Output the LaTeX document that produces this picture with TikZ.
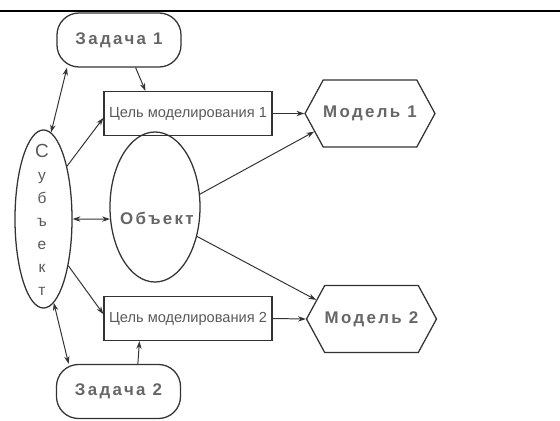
\documentclass[tikz,border=0pt]{standalone}
\usepackage{fontspec}
\setmainfont{Liberation Sans}
\newfontfamily\spacedfont[LetterSpace=14,BoldFont={Liberation Sans Bold}]{Liberation Sans}
\usetikzlibrary{shapes.geometric,shapes.symbols,arrows.meta}

\begin{document}
\begin{tikzpicture}[x=0.025cm, y=-0.025cm,
  task/.style={draw=black!80, line width=0.9pt, rounded corners=0.55cm,
    minimum width=3.1cm, minimum height=1.35cm, inner sep=0pt,
    font=\spacedfont\bfseries\fontsize{12}{14}\selectfont, text=black!60},
  goal/.style={draw=black!80, line width=0.9pt, minimum width=4.2cm,
    minimum height=1.1cm, inner sep=0pt,
    font=\fontsize{10.4}{12}\selectfont, text=black!65},
  model/.style={draw=black!80, line width=0.9pt, signal, signal to=west and east,
    signal pointer angle=123, minimum width=3.15cm, minimum height=1.675cm,
    inner sep=0pt, font=\spacedfont\bfseries\fontsize{12}{14}\selectfont, text=black!60},
  oval/.style={draw=black!80, line width=0.9pt, ellipse, inner sep=0pt},
  link/.style={draw=black!80, line width=0.7pt,
    >={Stealth[length=5.5pt,width=3.8pt]}}
]
\useasboundingbox (0,0) rectangle (560,421);

% Top rule
\draw[line width=1.4pt] (0,11) -- (560,11);

% Tasks
\node[task] (zad1) at (119,40) {Задача 1};
\node[task] (zad2) at (118.5,391.5) {Задача 2};

% Modelling goals
\node[goal] (cel1) at (188,113.5) {Цель моделирования 1};
\node[goal] (cel2) at (188,318.5) {Цель моделирования 2};

% Models
\node[model] (mod1) at (370,113.5) {Модель 1};
\node[model] (mod2) at (371.5,319) {Модель 2};

% Subject and object
\node[oval, minimum width=1.425cm, minimum height=4.45cm] (subj) at (43.5,219) {};
\node[align=center, text=black!65, font=\fontsize{11}{16.4}\selectfont]
  (subjtxt) at (42,220) {{\fontsize{13.5}{16.4}\selectfont С}\\у\\б\\ъ\\е\\к\\т};
\node[oval, minimum width=2.25cm, minimum height=3.75cm] (obj) at (155,207) {};
\node[text=black!60, font=\spacedfont\bfseries\fontsize{12}{14}\selectfont]
  (objtxt) at (157,218) {Объект};

% Connections
\draw[link,<->] (zad1.208) -- (subj.85);
\draw[link,->] (zad1.-59) -- (cel1.152);
\draw[link,->] (subj.66) -- (cel1.183);
\draw[link,->] (cel1.east) -- (mod1.west);
\draw[link,<->] (subj.east) -- (obj.195);
\draw[link,->] (obj.16) -- (mod1.198);
\draw[link,->] (obj.-35) -- (mod2.161);
\draw[link,->] (subj.-62) -- (cel2.177);
\draw[link,->] (cel2.east) -- (mod2.west);
\draw[link,<->] (subj.-83) -- (zad2.151);
\draw[link,->] (zad2.55) -- (cel2.205);

\end{tikzpicture}
\end{document}
